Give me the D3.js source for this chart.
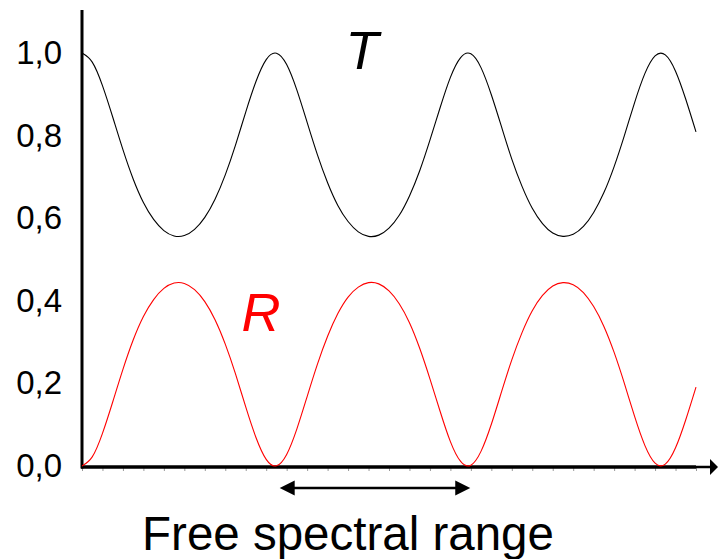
<!DOCTYPE html>
<html>
<head>
<meta charset="utf-8">
<script src="https://cdn.jsdelivr.net/npm/d3@7"></script>
<style>
  html, body { margin: 0; padding: 0; background: #fff; }
  svg { display: block; font-family: "Liberation Sans", Arial, sans-serif; }
</style>
</head>
<body>
<svg id="chart" width="718" height="559"></svg>
<script>
// ---- data ----
const xValues = [0,0.5,1,1.5,2,2.5,3,3.5,4,4.5,5,5.5,6,6.5,7,7.5,8,8.5,9,9.5,10,10.5,11,11.5,12,12.5,13,13.5,14,14.5,15,15.5,16,16.5,17,17.5,18,18.5,19,19.5,20,20.5,21,21.5,22,22.5,23,23.5,24,24.5,25,25.5,26,26.5,27,27.5,28,28.5,29,29.5,30];
const transmission = [1.000,0.978,0.921,0.845,0.766,0.695,0.638,0.597,0.570,0.557,0.558,0.573,0.602,0.646,0.705,0.777,0.857,0.931,0.984,0.9995,0.972,0.910,0.832,0.754,0.686,0.631,0.592,0.567,0.556,0.559,0.576,0.607,0.654,0.715,0.789,0.868,0.941,0.989,0.998,0.964,0.899,0.821,0.743,0.677,0.624,0.587,0.564,0.556,0.561,0.580,0.614,0.662,0.725,0.800,0.880,0.950,0.993,0.9955,0.956,0.888,0.809];
const reflection = [0.000,0.022,0.079,0.155,0.234,0.305,0.362,0.403,0.430,0.443,0.442,0.427,0.398,0.354,0.295,0.223,0.143,0.069,0.016,0.0005,0.028,0.090,0.168,0.246,0.314,0.369,0.409,0.433,0.444,0.441,0.424,0.393,0.347,0.285,0.211,0.132,0.059,0.011,0.002,0.036,0.101,0.180,0.257,0.323,0.376,0.413,0.436,0.444,0.439,0.420,0.386,0.338,0.275,0.200,0.120,0.050,0.007,0.0045,0.044,0.112,0.191];
const yTicks = [0, 0.2, 0.4, 0.6, 0.8, 1.0];
const xMinorTicks = d3.range(0, 31, 1);
const fsrRange = [9.66, 18.97];
const labels = { T: "T", R: "R", fsr: "Free spectral range" };

// ---- layout ----
const svg = d3.select("#chart");
const x = d3.scaleLinear().domain([0, 30]).range([82, 696]);
const y = d3.scaleLinear().domain([0, 1]).range([466, 53]);

// x axis minor ticks (gray)
const xAxis = d3.axisBottom(x).tickValues(xMinorTicks).tickFormat("").tickSize(4).tickSizeOuter(0);
const gx = svg.append("g").attr("transform", `translate(0,${y(0) + 1})`).call(xAxis);
gx.select(".domain").remove();
gx.selectAll(".tick line").attr("stroke", "#999").attr("stroke-width", 1);

// x axis main line (thick part + thinner extension + arrow head)
svg.append("line").attr("x1", x(0) - 1).attr("x2", x(30)).attr("y1", y(0) + 1).attr("y2", y(0) + 1)
  .attr("stroke", "#000").attr("stroke-width", 3.5);
svg.append("line").attr("x1", x(30)).attr("x2", 712).attr("y1", y(0) + 1).attr("y2", y(0) + 1)
  .attr("stroke", "#000").attr("stroke-width", 2.5);
svg.append("path").attr("d", `M710,${y(0) + 1 - 8} L718,${y(0) + 1} L710,${y(0) + 1 + 8} Z`).attr("fill", "#000");

// y axis
const yAxis = d3.axisLeft(y).tickValues(yTicks).tickSize(0).tickPadding(20)
  .tickFormat(d => d3.format(".1f")(d).replace(".", ","));
const gy = svg.append("g").attr("transform", `translate(${x(0)},0)`).call(yAxis);
gy.select(".domain").remove();
gy.selectAll(".tick text").attr("font-size", 33).attr("fill", "#000")
  .attr("font-family", '"Liberation Sans", Arial, sans-serif');
svg.append("line").attr("x1", x(0)).attr("x2", x(0)).attr("y1", 10).attr("y2", y(0) + 2.5)
  .attr("stroke", "#000").attr("stroke-width", 3);

// curves
const line = d3.line().x((d, i) => x(xValues[i])).y(d => y(d)).curve(d3.curveNatural);
svg.append("path").datum(transmission).attr("d", line)
  .attr("fill", "none").attr("stroke", "#000").attr("stroke-width", 1.1);
svg.append("path").datum(reflection).attr("d", line)
  .attr("fill", "none").attr("stroke", "#ff0000").attr("stroke-width", 1.1);

// series labels
svg.append("text").attr("x", 362).attr("y", 69).attr("text-anchor", "middle")
  .attr("font-size", 54).attr("font-style", "italic").attr("fill", "#000").text(labels.T);
svg.append("text").attr("x", 261).attr("y", 331).attr("text-anchor", "middle")
  .attr("font-size", 54).attr("font-style", "italic").attr("fill", "#ff0000").text(labels.R);

// free spectral range arrow
const ay = 488, x1 = x(fsrRange[0]), x2 = x(fsrRange[1]);
svg.append("line").attr("x1", x1 + 12).attr("x2", x2 - 12).attr("y1", ay).attr("y2", ay)
  .attr("stroke", "#000").attr("stroke-width", 2.5);
svg.append("path").attr("d", `M${x1},${ay} L${x1 + 15},${ay - 7.5} L${x1 + 15},${ay + 7.5} Z`).attr("fill", "#000");
svg.append("path").attr("d", `M${x2},${ay} L${x2 - 15},${ay - 7.5} L${x2 - 15},${ay + 7.5} Z`).attr("fill", "#000");

svg.append("text").attr("x", (143 + 553) / 2).attr("y", 550).attr("text-anchor", "middle")
  .attr("font-size", 47.5).attr("fill", "#000").text(labels.fsr);
</script>
</body>
</html>
